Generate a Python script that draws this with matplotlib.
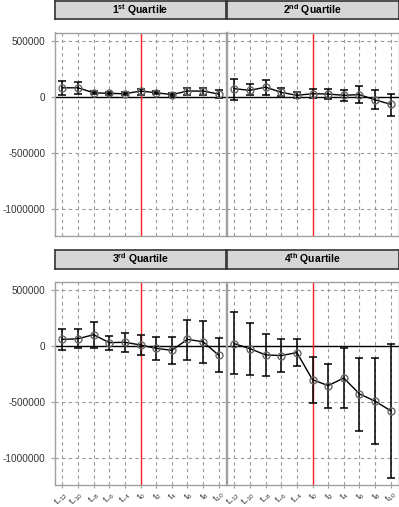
import matplotlib
matplotlib.use("Agg")
import matplotlib.pyplot as plt
import numpy as np

plt.rcParams['font.family'] = ['Liberation Sans', 'DejaVu Sans']
plt.rcParams['mathtext.fontset'] = 'custom'
plt.rcParams['mathtext.rm'] = 'Liberation Sans'
plt.rcParams['mathtext.it'] = 'Liberation Sans:italic'
plt.rcParams['mathtext.bf'] = 'Liberation Sans:bold'

periods = ["-12", "-10", "-8", "-6", "-4", "0", "2", "4", "6", "8", "10"]
tick_labels = [r"$\mathrm{t}_{%s}$" % p for p in periods]
panel_titles = [r"1$^{\mathbf{st}}$ Quartile", r"2$^{\mathbf{nd}}$ Quartile",
                r"3$^{\mathbf{rd}}$ Quartile", r"4$^{\mathbf{th}}$ Quartile"]

q1_mean = [82000, 82000, 38000, 32000, 29000, 53000, 38000, 21000, 53000, 53000, 26000]
q1_low = [15000, 24000, 26000, 20000, 17000, 18000, 26000, 9000, 18000, 18000, -6000]
q1_high = [147000, 135000, 56000, 44000, 41000, 74000, 56000, 35000, 76000, 82000, 65000]

q2_mean = [74000, 59000, 88000, 41000, 15000, 29000, 26000, 15000, 21000, -26000, -65000]
q2_low = [-24000, 15000, 18000, 9000, -12000, -6000, -18000, -35000, -56000, -109000, -171000]
q2_high = [165000, 112000, 153000, 76000, 41000, 74000, 74000, 65000, 100000, 62000, 29000]

q3_mean = [62000, 68000, 104000, 33000, 36000, 12000, -18000, -36000, 62000, 41000, -80000]
q3_low = [-36000, -15000, -15000, -33000, -50000, -80000, -127000, -157000, -121000, -148000, -234000]
q3_high = [157000, 151000, 219000, 95000, 118000, 101000, 86000, 86000, 240000, 228000, 74000]

q4_mean = [24000, -21000, -77000, -83000, -56000, -299000, -352000, -284000, -426000, -491000, -577000]
q4_low = [-251000, -254000, -263000, -234000, -180000, -506000, -550000, -553000, -755000, -873000, -1175000]
q4_high = [305000, 210000, 107000, 62000, 68000, -95000, -160000, -18000, -104000, -104000, 24000]

series = [(q1_mean, q1_low, q1_high), (q2_mean, q2_low, q2_high),
          (q3_mean, q3_low, q3_high), (q4_mean, q4_low, q4_high)]

W, H = 399, 507
fig = plt.figure(figsize=(W / 100, H / 100), dpi=100)

def box(x0, y0, x1, y1):
    return [x0 / W, 1 - y1 / H, (x1 - x0) / W, (y1 - y0) / H]

cols = [(54.5, 226.5), (226.5, 398.5)]
rows = [((0.5, 19), (32.5, 236)), ((250, 268.5), (282, 485))]

yticks = [500000, 0, -500000, -1000000]
x = np.arange(len(periods))
t0 = periods.index("0")

for i, (mean, low, high) in enumerate(series):
    r, c = divmod(i, 2)
    (sy0, sy1), (py0, py1) = rows[r]
    cx0, cx1 = cols[c]
    # strip
    sax = fig.add_axes(box(cx0, sy0, cx1, sy1))
    sax.set_facecolor("#D6D6D6")
    sax.set_xticks([]); sax.set_yticks([])
    for s in sax.spines.values():
        s.set_color("#333333"); s.set_linewidth(1.2)
    sax.text(0.5, 0.5, panel_titles[i], ha="center", va="center",
             fontsize=7.5, fontweight="bold", transform=sax.transAxes)
    # panel
    ax = fig.add_axes(box(cx0, py0, cx1, py1))
    ax.set_xlim(-0.5, len(periods) - 0.5)
    ax.set_ylim(-1242000, 576000)
    ax.set_xticks(x)
    ax.set_yticks(yticks)
    ax.grid(True, color="#9a9a9a", linestyle=(0, (3, 3)), linewidth=0.8)
    ax.set_axisbelow(True)
    for s in ax.spines.values():
        s.set_color("#A0A0A0"); s.set_linewidth(1.0)
    ax.tick_params(colors="#A0A0A0", length=3, width=0.8, labelcolor="#333333", labelsize=7.2)
    if c == 0:
        ax.set_yticklabels([str(v) for v in yticks])
    else:
        ax.set_yticklabels([])
        ax.tick_params(axis="y", length=0)
    if r == 1:
        ax.set_xticklabels(tick_labels, rotation=45, ha="right", va="top",
                           rotation_mode="anchor", fontsize=6.6)
        ax.tick_params(axis="x", pad=0.5, length=2.5)
    else:
        ax.set_xticklabels([])
        ax.tick_params(axis="x", length=0)
    ax.axhline(0, color="black", linewidth=1.0, zorder=2)
    ax.axvline(t0, color="#FF2020", linewidth=1.0, zorder=2)
    m = np.array(mean); lo = np.array(low); hi = np.array(high)
    ax.errorbar(x, m, yerr=[m - lo, hi - m], fmt="none", ecolor="black",
                elinewidth=1.1, capsize=2.8, capthick=1.1, zorder=3)
    ax.plot(x, m, color="black", linewidth=1.0, zorder=4)
    ax.plot(x, m, linestyle="none", marker="o", markersize=5,
            markerfacecolor="none", markeredgecolor="#666666", markeredgewidth=1.0, zorder=5)

fig.savefig("out.png", dpi=100)
